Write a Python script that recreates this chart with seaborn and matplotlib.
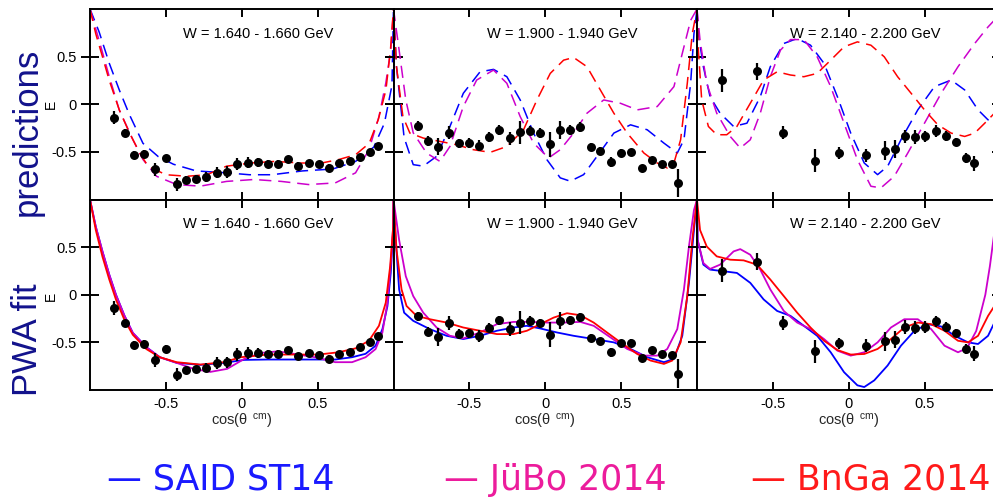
import matplotlib
matplotlib.use("Agg")
import matplotlib.pyplot as plt
import seaborn as sns
import numpy as np

# ---------------- measured double-polarisation observable E ----------------
cos_1640 = [-0.844, -0.771, -0.707, -0.644, -0.573, -0.502, -0.429, -0.369, -0.302,
            -0.238, -0.162, -0.100, -0.033, 0.040, 0.104, 0.171, 0.238, 0.304,
            0.371, 0.442, 0.509, 0.578, 0.642, 0.711, 0.778, 0.842, 0.900]
E_1640 = [-0.14, -0.30, -0.53, -0.52, -0.685, -0.568, -0.84, -0.795, -0.783,
          -0.765, -0.717, -0.71, -0.627, -0.613, -0.61, -0.623, -0.625, -0.578,
          -0.648, -0.613, -0.63, -0.671, -0.621, -0.598, -0.551, -0.499, -0.435]
dE_1640 = [0.07, 0.04, 0.04, 0.04, 0.07, 0.04, 0.07, 0.04, 0.04, 0.05, 0.06, 0.06,
           0.065, 0.06, 0.05, 0.04, 0.04, 0.03, 0.04, 0.03, 0.03, 0.04, 0.03, 0.03,
           0.03, 0.03, 0.03]

cos_1920 = [-0.841, -0.771, -0.705, -0.634, -0.566, -0.502, -0.438, -0.372, -0.302,
            -0.233, -0.165, -0.099, -0.037, 0.033, 0.099, 0.165, 0.231, 0.302,
            0.363, 0.434, 0.500, 0.566, 0.637, 0.703, 0.767, 0.835, 0.877]
E_1920 = [-0.228, -0.386, -0.444, -0.298, -0.41, -0.405, -0.434, -0.344, -0.268,
          -0.358, -0.294, -0.277, -0.301, -0.419, -0.271, -0.268, -0.238, -0.452,
          -0.489, -0.605, -0.511, -0.506, -0.669, -0.583, -0.623, -0.628, -0.828]
dE_1920 = [0.05, 0.05, 0.09, 0.07, 0.05, 0.05, 0.06, 0.05, 0.05, 0.07, 0.12, 0.05,
           0.05, 0.13, 0.09, 0.05, 0.05, 0.04, 0.04, 0.05, 0.04, 0.04, 0.03, 0.03,
           0.03, 0.03, 0.15]

cos_2170 = [-0.834, -0.607, -0.433, -0.221, -0.066, 0.115, 0.241, 0.305, 0.371,
            0.439, 0.503, 0.572, 0.640, 0.706, 0.773, 0.828]
E_2170 = [0.253, 0.346, -0.298, -0.592, -0.511, -0.536, -0.489, -0.47, -0.338,
          -0.345, -0.338, -0.279, -0.336, -0.398, -0.567, -0.62]
dE_2170 = [0.12, 0.09, 0.07, 0.12, 0.06, 0.07, 0.10, 0.09, 0.07, 0.07, 0.06, 0.06,
           0.05, 0.04, 0.05, 0.08]

# ---------------- model predictions (dashed) ----------------
said_pred_1640_x = [-1.0, -0.94, -0.873, -0.807, -0.74, -0.651, -0.55, -0.45, -0.3, -0.1,
                    0.05, 0.2, 0.4, 0.6, 0.75, 0.87, 0.94, 0.99, 1.0]
said_pred_1640_y = [1.0, 0.76, 0.43, 0.15, -0.11, -0.41, -0.55, -0.63, -0.70, -0.72,
                    -0.74, -0.74, -0.70, -0.68, -0.60, -0.45, -0.20, 0.2, 1.0]
jubo_pred_1640_x = [-1.0, -0.94, -0.873, -0.807, -0.718, -0.651, -0.562, -0.429, -0.273,
                    -0.1, 0.08, 0.26, 0.44, 0.616, 0.75, 0.838, 0.904, 0.949, 0.982, 1.0]
jubo_pred_1640_y = [1.0, 0.67, 0.29, -0.06, -0.37, -0.58, -0.756, -0.843, -0.86, -0.81,
                    -0.79, -0.81, -0.843, -0.826, -0.72, -0.48, -0.13, 0.22, 0.57, 1.0]
bnga_pred_1640_x = [-1.0, -0.962, -0.918, -0.873, -0.807, -0.74, -0.673, -0.618, -0.5,
                    -0.36, -0.23, -0.1, 0.06, 0.216, 0.39, 0.527, 0.64, 0.75, 0.84,
                    0.9, 0.95, 0.98, 1.0]
bnga_pred_1640_y = [1.0, 0.74, 0.5, 0.25, -0.06, -0.3, -0.51, -0.65, -0.74, -0.756,
                    -0.74, -0.65, -0.617, -0.6, -0.617, -0.617, -0.58, -0.53, -0.41,
                    -0.16, 0.15, 0.57, 1.0]

said_pred_1920_x = [-1.0, -0.98, -0.93, -0.87, -0.804, -0.716, -0.628, -0.54, -0.43,
                    -0.341, -0.253, -0.165, -0.077, 0.011, 0.099, 0.165, 0.253, 0.341,
                    0.452, 0.562, 0.672, 0.782, 0.87, 0.914, 0.958, 0.98, 1.0]
said_pred_1920_y = [1.0, 0.39, -0.35, -0.634, -0.65, -0.547, -0.233, 0.115, 0.34,
                    0.366, 0.289, 0.045, -0.303, -0.582, -0.773, -0.808, -0.739, -0.547,
                    -0.303, -0.216, -0.268, -0.408, -0.512, -0.373, 0.22, 0.742, 1.0]
jubo_pred_1920_x = [-1.0, -0.963, -0.919, -0.87, -0.782, -0.694, -0.628, -0.54, -0.452,
                    -0.341, -0.253, -0.165, -0.077, 0.022, 0.099, 0.187, 0.275, 0.385,
                    0.496, 0.606, 0.738, 0.848, 0.914, 0.958, 1.0]
jubo_pred_1920_y = [1.0, 0.568, 0.045, -0.3, -0.512, -0.6, -0.443, -0.024, 0.254,
                    0.359, 0.22, -0.13, -0.408, -0.564, -0.477, -0.303, -0.094, 0.045,
                    0.01, -0.059, -0.024, 0.185, 0.603, 0.881, 1.0]
bnga_pred_1920_x = [-1.0, -0.98, -0.938, -0.892, -0.804, -0.694, -0.584, -0.474, -0.363,
                    -0.253, -0.143, -0.055, 0.033, 0.121, 0.187, 0.275, 0.363, 0.452,
                    0.54, 0.65, 0.738, 0.804, 0.848, 0.892, 0.936, 0.969, 1.0]
bnga_pred_1920_y = [1.0, 0.39, -0.13, -0.303, -0.355, -0.39, -0.425, -0.477, -0.505,
                    -0.443, -0.268, 0.045, 0.324, 0.463, 0.491, 0.394, 0.15, -0.094,
                    -0.303, -0.512, -0.617, -0.669, -0.617, -0.373, 0.22, 0.742, 1.0]

said_pred_2170_x = [-1.0, -0.991, -0.958, -0.914, -0.848, -0.759, -0.671, -0.583, -0.517,
                    -0.428, -0.34, -0.252, -0.163, -0.075, 0.013, 0.102, 0.19, 0.256,
                    0.344, 0.455, 0.565, 0.675, 0.764, 0.852, 0.918, 0.97, 1.0]
said_pred_2170_y = [1.0, 0.742, 0.394, 0.08, -0.094, -0.233, -0.199, 0.08, 0.394,
                    0.638, 0.69, 0.62, 0.429, 0.08, -0.303, -0.617, -0.739, -0.652,
                    -0.373, -0.059, 0.185, 0.254, 0.15, -0.059, -0.164, -0.09, 0.0]
jubo_pred_2170_x = [-1.0, -0.98, -0.936, -0.87, -0.781, -0.715, -0.649, -0.583, -0.517,
                    -0.45, -0.384, -0.296, -0.208, -0.119, -0.031, 0.057, 0.146, 0.212,
                    0.3, 0.389, 0.499, 0.609, 0.72, 0.83, 0.918, 0.97, 1.0]
jubo_pred_2170_y = [1.0, 0.672, 0.22, -0.094, -0.338, -0.46, -0.373, -0.094, 0.289,
                    0.568, 0.679, 0.679, 0.498, 0.185, -0.199, -0.582, -0.861, -0.878,
                    -0.756, -0.512, -0.199, 0.115, 0.394, 0.638, 0.812, 0.9, 0.95]
bnga_pred_2170_x = [-1.0, -0.991, -0.969, -0.925, -0.87, -0.804, -0.737, -0.649, -0.561,
                    -0.472, -0.384, -0.296, -0.208, -0.119, -0.031, 0.057, 0.146, 0.234,
                    0.322, 0.411, 0.499, 0.587, 0.675, 0.764, 0.83, 0.896, 0.96, 1.0]
bnga_pred_2170_y = [1.0, 0.568, 0.045, -0.233, -0.32, -0.32, -0.233, 0.01, 0.254,
                    0.341, 0.307, 0.289, 0.324, 0.463, 0.603, 0.655, 0.62, 0.498,
                    0.289, 0.115, -0.059, -0.216, -0.303, -0.338, -0.303, -0.199,
                    -0.094, 0.0]

# ---------------- PWA fits (solid) ----------------
said_fit_1640_x = [-1.0, -0.962, -0.918, -0.873, -0.829, -0.773, -0.718, -0.629, -0.54,
                   -0.429, -0.273, -0.118, 0.016, 0.171, 0.349, 0.504, 0.616, 0.727,
                   0.816, 0.882, 0.927, 0.96, 0.982, 0.998, 1.0]
said_fit_1640_y = [1.0, 0.715, 0.455, 0.21, 0.0, -0.22, -0.40, -0.55, -0.656, -0.715,
                   -0.736, -0.715, -0.684, -0.68, -0.68, -0.68, -0.68, -0.656, -0.62,
                   -0.535, -0.36, -0.12, 0.23, 0.68, 1.0]
jubo_fit_1640_x = [-1.0, -0.962, -0.918, -0.873, -0.829, -0.773, -0.718, -0.629, -0.54,
                   -0.429, -0.318, -0.207, -0.096, 0.016, 0.127, 0.238, 0.349, 0.482,
                   0.616, 0.727, 0.816, 0.882, 0.927, 0.96, 0.982, 0.998, 1.0]
jubo_fit_1640_y = [1.0, 0.715, 0.455, 0.21, 0.0, -0.22, -0.40, -0.55, -0.656, -0.715,
                   -0.778, -0.81, -0.778, -0.674, -0.611, -0.594, -0.622, -0.656,
                   -0.708, -0.708, -0.656, -0.57, -0.396, -0.083, 0.333, 0.715, 1.0]
bnga_fit_1640_x = [-1.0, -0.962, -0.918, -0.873, -0.829, -0.773, -0.718, -0.629, -0.54,
                   -0.429, -0.273, -0.118, -0.007, 0.171, 0.349, 0.504, 0.638, 0.749,
                   0.838, 0.904, 0.949, 0.978, 0.998, 1.0]
bnga_fit_1640_y = [1.0, 0.68, 0.40, 0.16, -0.05, -0.264, -0.42, -0.57, -0.656, -0.708,
                   -0.733, -0.708, -0.656, -0.628, -0.628, -0.628, -0.604, -0.563,
                   -0.483, -0.326, -0.083, 0.3, 0.715, 1.0]

said_fit_1920_x = [-1.0, -0.985, -0.963, -0.93, -0.87, -0.76, -0.65, -0.54, -0.43,
                   -0.319, -0.209, -0.121, -0.033, 0.077, 0.187, 0.319, 0.452, 0.562,
                   0.672, 0.782, 0.848, 0.903, 0.947, 0.98, 1.0]
said_fit_1920_y = [1.0, 0.576, 0.056, -0.188, -0.274, -0.361, -0.431, -0.465, -0.431,
                   -0.378, -0.344, -0.326, -0.354, -0.396, -0.431, -0.465, -0.5, -0.569,
                   -0.656, -0.708, -0.674, -0.431, 0.125, 0.68, 1.0]
jubo_fit_1920_x = [-1.0, -0.963, -0.919, -0.87, -0.804, -0.716, -0.628, -0.54, -0.43,
                   -0.319, -0.209, -0.099, 0.011, 0.121, 0.231, 0.319, 0.43, 0.54,
                   0.65, 0.738, 0.804, 0.87, 0.914, 0.947, 0.98, 1.0]
jubo_fit_1920_y = [1.0, 0.576, 0.194, -0.014, -0.188, -0.344, -0.431, -0.458, -0.396,
                   -0.309, -0.285, -0.285, -0.292, -0.292, -0.285, -0.326, -0.448,
                   -0.569, -0.639, -0.639, -0.569, -0.361, 0.056, 0.507, 0.889, 1.0]
bnga_fit_1920_x = [-1.0, -0.98, -0.947, -0.914, -0.848, -0.76, -0.65, -0.54, -0.43,
                   -0.319, -0.209, -0.121, -0.033, 0.055, 0.143, 0.231, 0.319, 0.407,
                   0.496, 0.606, 0.694, 0.782, 0.837, 0.892, 0.936, 0.969, 1.0]
bnga_fit_1920_y = [1.0, 0.47, 0.056, -0.118, -0.222, -0.257, -0.292, -0.344, -0.378,
                   -0.413, -0.413, -0.378, -0.309, -0.24, -0.194, -0.215, -0.292,
                   -0.396, -0.5, -0.622, -0.691, -0.726, -0.691, -0.5, -0.014, 0.576, 1.0]

said_fit_2170_x = [-1.0, -0.996, -0.958, -0.914, -0.826, -0.737, -0.649, -0.561, -0.472,
                   -0.384, -0.296, -0.208, -0.119, -0.031, 0.057, 0.102, 0.168, 0.256,
                   0.344, 0.433, 0.521, 0.609, 0.698, 0.786, 0.852, 0.918, 0.96, 1.0]
said_fit_2170_y = [1.0, 0.576, 0.316, 0.264, 0.247, 0.229, 0.125, -0.049, -0.17, -0.222,
                   -0.326, -0.431, -0.604, -0.813, -0.951, -0.969, -0.899, -0.743,
                   -0.535, -0.378, -0.309, -0.333, -0.431, -0.5, -0.517, -0.431,
                   -0.292, -0.1]
jubo_fit_2170_x = [-1.0, -0.996, -0.958, -0.914, -0.848, -0.759, -0.715, -0.649, -0.583,
                   -0.517, -0.428, -0.34, -0.252, -0.163, -0.075, 0.013, 0.102, 0.19,
                   0.278, 0.366, 0.455, 0.543, 0.631, 0.72, 0.78, 0.84, 0.9, 0.93,
                   0.96, 1.0]
jubo_fit_2170_y = [1.0, 0.576, 0.333, 0.271, 0.316, 0.455, 0.479, 0.42, 0.264, 0.056,
                   -0.17, -0.292, -0.361, -0.465, -0.587, -0.639, -0.604, -0.5, -0.344,
                   -0.257, -0.257, -0.361, -0.535, -0.604, -0.56, -0.38, 0.0, 0.3,
                   0.66, 0.9]
bnga_fit_2170_x = [-1.0, -0.98, -0.936, -0.87, -0.781, -0.693, -0.605, -0.517, -0.428,
                   -0.34, -0.252, -0.163, -0.075, 0.013, 0.102, 0.19, 0.278, 0.366,
                   0.455, 0.543, 0.631, 0.72, 0.786, 0.852, 0.918, 0.96, 1.0]
bnga_fit_2170_y = [1.0, 0.68, 0.507, 0.403, 0.368, 0.361, 0.316, 0.16, -0.014, -0.188,
                   -0.344, -0.483, -0.58, -0.628, -0.622, -0.569, -0.465, -0.344,
                   -0.292, -0.309, -0.378, -0.483, -0.5, -0.431, -0.222, -0.118, 0.1]

energy_bins = ["W = 1.640 - 1.660 GeV", "W = 1.900 - 1.940 GeV", "W = 2.140 - 2.200 GeV"]
row_titles = ["predictions", "PWA fit"]
model_names = ["SAID ST14", "JüBo 2014", "BnGa 2014"]

# ---------------- styling ----------------
sns.set_style("ticks")
plt.rcParams["font.family"] = ["Liberation Sans", "DejaVu Sans"]
plt.rcParams["axes.unicode_minus"] = False
plt.rcParams["mathtext.fontset"] = "custom"
plt.rcParams["mathtext.rm"] = "Liberation Sans"
plt.rcParams["mathtext.it"] = "Liberation Sans:italic"

curve_colors = {"said": "#0000ff", "jubo": "#cc00cc", "bnga": "#ff0000"}
legend_colors = ["#1a1aff", "#ec1c9c", "#ff1a1a"]
navy = "#12128c"

W, H = 993, 499
fig = plt.figure(figsize=(W / 100, H / 100), dpi=100)

panel_left = 90.0
panel_w = 303.5
row_edges = [(9.0, 199.5), (199.5, 390.0)]

data_sets = [(cos_1640, E_1640, dE_1640), (cos_1920, E_1920, dE_1920),
             (cos_2170, E_2170, dE_2170)]
curves = {
    (0, 0): [(said_pred_1640_x, said_pred_1640_y, "said"), (jubo_pred_1640_x, jubo_pred_1640_y, "jubo"), (bnga_pred_1640_x, bnga_pred_1640_y, "bnga")],
    (0, 1): [(said_pred_1920_x, said_pred_1920_y, "said"), (jubo_pred_1920_x, jubo_pred_1920_y, "jubo"), (bnga_pred_1920_x, bnga_pred_1920_y, "bnga")],
    (0, 2): [(said_pred_2170_x, said_pred_2170_y, "said"), (jubo_pred_2170_x, jubo_pred_2170_y, "jubo"), (bnga_pred_2170_x, bnga_pred_2170_y, "bnga")],
    (1, 0): [(said_fit_1640_x, said_fit_1640_y, "said"), (jubo_fit_1640_x, jubo_fit_1640_y, "jubo"), (bnga_fit_1640_x, bnga_fit_1640_y, "bnga")],
    (1, 1): [(said_fit_1920_x, said_fit_1920_y, "said"), (jubo_fit_1920_x, jubo_fit_1920_y, "jubo"), (bnga_fit_1920_x, bnga_fit_1920_y, "bnga")],
    (1, 2): [(said_fit_2170_x, said_fit_2170_y, "said"), (jubo_fit_2170_x, jubo_fit_2170_y, "jubo"), (bnga_fit_2170_x, bnga_fit_2170_y, "bnga")],
}

for r in range(2):
    top_px, bot_px = row_edges[r]
    for c in range(3):
        left_px = panel_left + panel_w * c
        ax = fig.add_axes([left_px / W, (H - bot_px) / H, panel_w / W, (bot_px - top_px) / H])
        for xs, ys, key in curves[(r, c)]:
            if r == 0:
                sns.lineplot(x=xs, y=ys, ax=ax, color=curve_colors[key], sort=False,
                             estimator=None, linewidth=1.1, linestyle=(0, (8, 4.5)))
            else:
                sns.lineplot(x=xs, y=ys, ax=ax, color=curve_colors[key], sort=False,
                             estimator=None, linewidth=1.3)
        xd, yd, ed = data_sets[c]
        ax.errorbar(xd, yd, yerr=ed, fmt="none", ecolor="black", elinewidth=1.6,
                    capsize=0, zorder=4)
        sns.scatterplot(x=xd, y=yd, ax=ax, color="black", s=42, edgecolor="black",
                        linewidth=0, zorder=5)
        ax.set_xlim(-1, 1)
        ax.set_ylim(-1, 1)
        ax.set_xticks([-0.5, 0, 0.5])
        ax.set_yticks([-0.5, 0, 0.5])
        for s in ax.spines.values():
            s.set_linewidth(1.4)
            s.set_color("black")
        ax.tick_params(axis="x", which="both", direction="in", length=6, width=1.4,
                       top=True, bottom=True, labelsize=10.5, colors="black", pad=5)
        ax.tick_params(axis="y", which="both", direction="inout", length=13, width=1.4,
                       left=True, right=True, labelsize=10.5, colors="black", pad=3)
        if r == 1:
            ax.set_xticklabels(["-0.5", "0", "0.5"])
            ax.set_xlabel(r"cos($\mathregular{\theta^{\ \ cm}}$)", fontsize=10.5, labelpad=1)
        else:
            ax.set_xticklabels([])
        if c == 0:
            ax.set_yticklabels(["-0.5", "0", "0.5"])
        else:
            ax.set_yticklabels([])
        ax.set_ylabel("")
        ax.text(0.555, 0.87, energy_bins[c], transform=ax.transAxes, ha="center",
                va="center", fontsize=10.5, color="black")

# row titles with the observable symbol
for title, (yc_title, yc_E) in zip(row_titles, [(132, 104), (340, 296)]):
    fig.text(37 / W, 1 - yc_title / H, title, rotation=90, rotation_mode="anchor",
             ha="center", va="baseline", fontsize=25, color=navy)
    fig.text(51 / W, 1 - yc_E / H, "E", rotation=90, ha="center", va="center",
             fontsize=10, color="black")

# legend row
for name, col, x0 in zip(model_names, legend_colors, [107, 444, 751]):
    fig.text(x0 / W, 1 - 490 / H, "— " + name, ha="left", va="baseline",
             fontsize=25, color=col, family="DejaVu Sans")

fig.savefig("out.png", dpi=100)
